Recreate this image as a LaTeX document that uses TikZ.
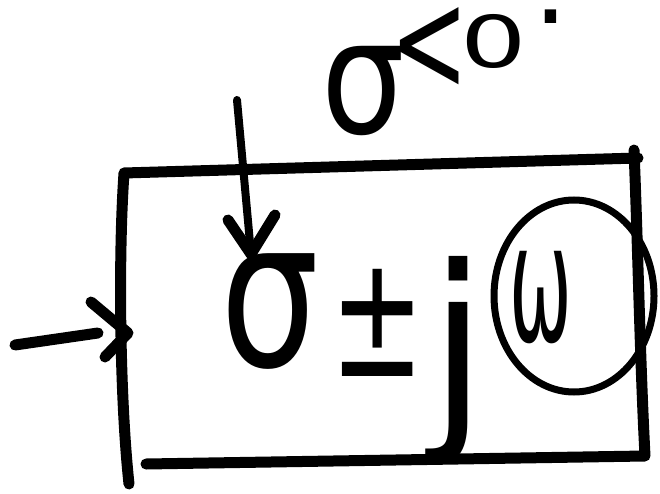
\documentclass[tikz,border=0pt]{standalone}
\usepackage{graphicx}
\usepackage{fontspec}
\setmainfont{DejaVu Sans}
\begin{document}
\begin{tikzpicture}[x=1pt,y=-1pt,
  hand/.style={line width=11pt,line cap=round,line join=round},
  thin hand/.style={line width=8pt,line cap=round,line join=round},
  glyph/.style={inner sep=0pt,outer sep=0pt,anchor=base}]
\useasboundingbox (0,0) rectangle (660,494);
% box
\coordinate (tl) at (124,173);
\coordinate (tr) at (638,158);
\coordinate (br) at (645,456);
\coordinate (bl) at (146,464);
\coordinate (lb) at (129,484);
\draw[hand] (lb) .. controls (120,400) and (118,260) .. (tl) -- (tr);
\draw[hand] (634,150) .. controls (638,250) and (640,360) .. (br) -- (bl);
% left input arrow
\coordinate (in0) at (15,345);
\coordinate (in1) at (98,333);
\coordinate (inTip) at (128,333);
\draw[hand] (in0) -- (in1);
\draw[hand] (91,302) -- (inTip) -- (105,357);
% top arrow
\coordinate (ta0) at (237,100);
\coordinate (taTip) at (251,254);
\draw[thin hand] (ta0) -- (taTip);
\draw[hand] (228,220) -- (taTip) -- (275,215);
% top label sigma<0.
\node[glyph,font=\fontsize{110}{110}\selectfont] (s1) at (363,134) {\scalebox{1.2}[1.45]{σ}};
\node[glyph,font=\fontsize{85}{85}\selectfont] (lt) at (430,92) {\scalebox{1.1}[1.7]{<}};
\node[glyph,font=\fontsize{55}{55}\selectfont] (z) at (494,68) {\scalebox{1.9}[1.3]{0}};
\node[glyph,font=\fontsize{110}{110}\selectfont] (dot) at (551,24) {.};
% expression
\node[glyph,font=\fontsize{120}{120}\selectfont] (s2) at (270,366) {\scalebox{1.3}[1.72]{σ}};
\node[glyph,font=\fontsize{90}{90}\selectfont] (pm) at (378,376) {\scalebox{1.25}[1.9]{±}};
\node[glyph,font=\fontsize{160}{160}\selectfont] (j) at (458,420) {\scalebox{1.3}[1.35]{j}};
\node[glyph,font=\fontsize{75}{75}\selectfont] (w) at (541,341) {\scalebox{1}[2.2]{ω}};
\draw[line width=7pt] (574,296) ellipse [x radius=80, y radius=96];
\end{tikzpicture}
\end{document}
